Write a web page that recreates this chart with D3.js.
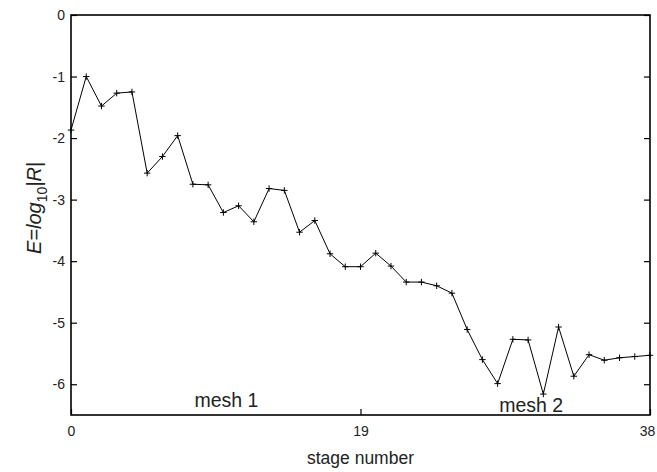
<!DOCTYPE html>
<html>
<head>
<meta charset="utf-8">
<script src="https://cdn.jsdelivr.net/npm/d3@7/dist/d3.min.js"></script>
<style>
  body { margin: 0; background: #fff; }
  svg { display: block; font-family: "Liberation Sans", Arial, sans-serif; }
</style>
</head>
<body>
<svg id="chart" width="657" height="472"></svg>
<script>
// stage number -> E = log10|R|
const stages = d3.range(0, 39);
const errors = [
  -1.87, -1.00, -1.48, -1.27, -1.25, -2.57, -2.30, -1.96, -2.75, -2.76,
  -3.21, -3.10, -3.36, -2.82, -2.85, -3.53, -3.34, -3.88, -4.09, -4.09,
  -3.87, -4.08, -4.34, -4.34, -4.40, -4.52, -5.11, -5.60, -5.99, -5.27,
  -5.28, -6.16, -5.07, -5.87, -5.52, -5.61, -5.57, -5.55, -5.53
];
const xTicks = [0, 19, 38];
const yTicks = [0, -1, -2, -3, -4, -5, -6];
const annotations = [
  { label: 'mesh 1', stage: 10.2, value: -6.37 },
  { label: 'mesh 2', stage: 30.2, value: -6.455 }
];

const svg = d3.select('#chart');
const m = { left: 71, right: 650, top: 15, bottom: 415 };

const x = d3.scaleLinear().domain([0, 38]).range([m.left, m.right]);
const y = d3.scaleLinear().domain([-6.5, 0]).range([m.bottom, m.top]);

const points = stages.map((s, i) => ({ s, e: errors[i] }));

// frame
svg.append('rect')
  .attr('x', m.left).attr('y', m.top)
  .attr('width', m.right - m.left).attr('height', m.bottom - m.top)
  .attr('fill', 'none').attr('stroke', '#000').attr('stroke-width', 1.6);

// axes, ticks inward
const tickLen = 6;
const fontTick = 14;

const xAxis = svg.append('g').attr('transform', `translate(0,${m.bottom})`)
  .call(d3.axisBottom(x).tickValues(xTicks).tickSizeInner(-tickLen).tickSizeOuter(0).tickPadding(11));
const yAxis = svg.append('g').attr('transform', `translate(${m.left},0)`)
  .call(d3.axisLeft(y).tickValues(yTicks).tickSizeInner(-tickLen).tickSizeOuter(0).tickPadding(6)
    .tickFormat(d3.format('d')));
const yAxisR = svg.append('g').attr('transform', `translate(${m.right},0)`)
  .call(d3.axisRight(y).tickValues(yTicks).tickSizeInner(-tickLen).tickSizeOuter(0).tickFormat(''));

[xAxis, yAxis, yAxisR].forEach(g => {
  g.select('.domain').remove();
  g.selectAll('line').attr('stroke', '#000').attr('stroke-width', 1.2);
  g.selectAll('text').attr('font-size', fontTick).attr('font-family', '"Liberation Sans", Arial, sans-serif').attr('fill', '#222');
});
yAxis.selectAll('text').text(d => d === 0 ? '0' : '-' + Math.abs(d));
// last x label sits against the page edge
xAxis.selectAll('text').filter(d => d === 38).attr('dx', -3);

// line
svg.append('path')
  .datum(points)
  .attr('fill', 'none')
  .attr('stroke', '#000')
  .attr('stroke-width', 1)
  .attr('d', d3.line().x(d => x(d.s)).y(d => y(d.e)));

// plus markers
const ms = 3.2;
svg.append('g').selectAll('path')
  .data(points)
  .enter().append('path')
  .attr('d', d => `M${x(d.s) - ms},${y(d.e)}H${x(d.s) + ms}M${x(d.s)},${y(d.e) - ms}V${y(d.e) + ms}`)
  .attr('stroke', '#000')
  .attr('stroke-width', 1);

// mesh annotations
svg.append('g').selectAll('text')
  .data(annotations)
  .enter().append('text')
  .attr('x', d => x(d.stage))
  .attr('y', d => y(d.value))
  .attr('text-anchor', 'middle')
  .attr('font-size', 19.5)
  .attr('fill', '#222')
  .text(d => d.label);

// axis titles
svg.append('text')
  .attr('x', (m.left + m.right) / 2)
  .attr('y', 464)
  .attr('text-anchor', 'middle')
  .attr('font-size', 17.5)
  .attr('fill', '#222')
  .text('stage number');

const yl = svg.append('text')
  .attr('transform', `translate(41,208) rotate(-90)`)
  .attr('text-anchor', 'middle')
  .attr('font-size', 20)
  .attr('font-style', 'italic')
  .attr('fill', '#222');
yl.append('tspan').text('E=log');
yl.append('tspan').attr('dy', 6).attr('font-size', 14).attr('font-style', 'normal').text('10');
yl.append('tspan').attr('dy', -6).text('|R|');
</script>
</body>
</html>
